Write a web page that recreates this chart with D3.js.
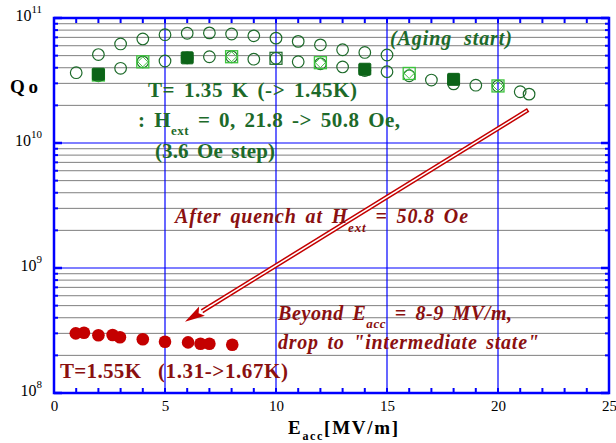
<!DOCTYPE html>
<html>
<head>
<meta charset="utf-8">
<script src="https://cdn.jsdelivr.net/npm/d3@7"></script>
<style>
  html, body { margin: 0; padding: 0; background: #fff; }
  svg { display: block; }
  svg text { font-family: 'Liberation Serif', 'Times New Roman', serif; }
</style>
</head>
<body>
<svg id="chart" width="616" height="443"></svg>
<script>
// Q0 vs accelerating gradient, before and after quench in an external field

// Open circles, upper branch
const upperE = [2, 3, 4, 5, 6, 7, 8, 9, 10, 11, 12, 13, 14, 15];
const upperQ = [5.1e10, 6.2e10, 6.8e10, 7.35e10, 7.55e10, 7.6e10, 7.45e10, 7.2e10,
                6.9e10, 6.5e10, 6.1e10, 5.57e10, 5.3e10, 5.06e10];

// Open circles, lower branch
const lowerE = [1, 2, 3, 4, 5, 6, 7, 8, 9, 10, 11, 12, 13, 14, 15, 16, 17, 18, 19, 20, 21, 21.4];
const lowerQ = [3.65e10, 3.45e10, 3.96e10, 4.46e10, 4.53e10, 4.8e10, 4.9e10, 4.9e10, 4.68e10,
                4.76e10, 4.47e10, 4.3e10, 4.06e10, 3.8e10, 3.72e10, 3.45e10, 3.19e10, 2.97e10,
                2.9e10, 2.86e10, 2.57e10, 2.46e10];

// Filled squares (field steps)
const filledE = [2, 6, 14, 18];
const filledQ = [3.55e10, 4.8e10, 3.89e10, 3.23e10];

// Light squares with diamond (field steps)
const lightE = [2, 4, 8, 12, 16, 20];
const lightQ = [3.5e10, 4.46e10, 4.9e10, 4.39e10, 3.6e10, 2.86e10];

// Dark open square
const openSqE = [10];
const openSqQ = [4.76e10];

// After quench at 50.8 Oe
const quenchE = [0.98, 1.35, 2.0, 2.64, 2.97, 4.0, 5.0, 6.04, 6.6, 7.0, 8.03];
const quenchQ = [3.0e8, 3.03e8, 2.9e8, 2.91e8, 2.79e8, 2.69e8, 2.57e8, 2.54e8, 2.48e8, 2.48e8, 2.43e8];

// Axis ticks
const xMajor = [0, 5, 10, 15, 20, 25];
const xMinor = d3.range(1, 25);
const yDecades = [1e8, 1e9, 1e10, 1e11];
const yDecadeExp = ["8", "9", "10", "11"];

// Arrow from the curve down to the quenched points: [E, Q]
const arrowFrom = [21.36, 1.84e10];
const arrowTo = [5.9, 3.72e8];

const m = { left: 54, right: 609, top: 18, bottom: 393 };
const SERIF = "'Liberation Serif', 'Times New Roman', serif";

const svg = d3.select("#chart");
const x = d3.scaleLinear().domain([0, 25]).range([m.left, m.right]);
const y = d3.scaleLog().domain([1e8, 1e11]).range([m.bottom, m.top]);

const blue = "#0000ff";
const grey = "#7f7f7f";
const green = "#1d6a2a";
const lightGreen = "#3cc43c";
const darkRed = "#8a1010";
const red = "#c40000";

// minor horizontal grid (2..9 of each decade)
const minorY = [];
for (let d = 8; d < 11; d++) for (let k = 2; k <= 9; k++) minorY.push(k * Math.pow(10, d));

const grid = svg.append("g");
grid.selectAll("line.hm").data(minorY).join("line")
  .attr("x1", m.left).attr("x2", m.right)
  .attr("y1", d => y(d)).attr("y2", d => y(d))
  .attr("stroke", grey).attr("stroke-width", 1);
grid.selectAll("line.hd").data([1e9, 1e10]).join("line")
  .attr("x1", m.left).attr("x2", m.right)
  .attr("y1", d => y(d)).attr("y2", d => y(d))
  .attr("stroke", blue).attr("stroke-width", 1.2);
grid.selectAll("line.v").data([5, 10, 15, 20]).join("line")
  .attr("x1", d => x(d)).attr("x2", d => x(d))
  .attr("y1", m.top).attr("y2", m.bottom)
  .attr("stroke", blue).attr("stroke-width", 1.2);

// ticks on all four sides, pointing inward
const tickG = svg.append("g").attr("stroke", blue);
const xTicksAll = xMajor.concat(xMinor);
tickG.selectAll("line.xb").data(xTicksAll).join("line")
  .attr("x1", d => x(d)).attr("x2", d => x(d))
  .attr("y1", m.bottom).attr("y2", m.bottom - 5).attr("stroke-width", 2);
tickG.selectAll("line.xt").data(xTicksAll).join("line")
  .attr("x1", d => x(d)).attr("x2", d => x(d))
  .attr("y1", m.top).attr("y2", m.top + 5).attr("stroke-width", 2);
tickG.selectAll("line.yl").data(minorY).join("line")
  .attr("x1", m.left).attr("x2", m.left + 4)
  .attr("y1", d => y(d)).attr("y2", d => y(d)).attr("stroke-width", 2);
tickG.selectAll("line.yr").data(minorY).join("line")
  .attr("x1", m.right).attr("x2", m.right - 4)
  .attr("y1", d => y(d)).attr("y2", d => y(d)).attr("stroke-width", 2);
tickG.selectAll("line.ydl").data(yDecades).join("line")
  .attr("x1", m.left).attr("x2", m.left + 8)
  .attr("y1", d => y(d)).attr("y2", d => y(d)).attr("stroke-width", 2.5);
tickG.selectAll("line.ydr").data(yDecades).join("line")
  .attr("x1", m.right).attr("x2", m.right - 8)
  .attr("y1", d => y(d)).attr("y2", d => y(d)).attr("stroke-width", 2.5);

// frame
svg.append("rect")
  .attr("x", m.left).attr("y", m.top)
  .attr("width", m.right - m.left).attr("height", m.bottom - m.top)
  .attr("fill", "none").attr("stroke", blue).attr("stroke-width", 2.5);

// tick labels via d3 axes
const xAxis = svg.append("g")
  .attr("transform", `translate(0,${m.bottom})`)
  .call(d3.axisBottom(x).tickValues(xMajor).tickSize(0).tickPadding(7).tickFormat(d3.format("d")));
xAxis.select(".domain").remove();
xAxis.attr("font-family", null);
xAxis.selectAll("text")
  .style("font-family", SERIF)
  .attr("font-size", 15).attr("fill", "#000");

const yAxis = svg.append("g")
  .attr("transform", `translate(${m.left},0)`)
  .call(d3.axisLeft(y).tickValues(yDecades).tickSize(0).tickPadding(12).tickFormat(() => ""));
yAxis.select(".domain").remove();
yAxis.attr("font-family", null);
yAxis.selectAll(".tick text").each(function (d, i) {
  const t = d3.select(this)
    .style("font-family", SERIF)
    .attr("font-size", 16).attr("fill", "#000")
    .attr("dy", "0.15em");
  t.append("tspan").text("10");
  t.append("tspan").attr("font-size", 11).attr("dy", "-0.75em").text(yDecadeExp[i]);
});

// data marks
const marks = svg.append("g");

marks.selectAll("circle.up").data(upperE.map((e, i) => [e, upperQ[i]])).join("circle")
  .attr("cx", d => x(d[0])).attr("cy", d => y(d[1])).attr("r", 5.8)
  .attr("fill", "none").attr("stroke", green).attr("stroke-width", 1.2);
marks.selectAll("circle.lo").data(lowerE.map((e, i) => [e, lowerQ[i]])).join("circle")
  .attr("cx", d => x(d[0])).attr("cy", d => y(d[1])).attr("r", 5.8)
  .attr("fill", "none").attr("stroke", green).attr("stroke-width", 1.2);

const ls = marks.selectAll("g.ls").data(lightE.map((e, i) => [e, lightQ[i]])).join("g")
  .attr("transform", d => `translate(${x(d[0])},${y(d[1])})`);
ls.append("rect").attr("x", -6).attr("y", -6).attr("width", 12).attr("height", 12)
  .attr("fill", "none").attr("stroke", lightGreen).attr("stroke-width", 1.3);
ls.append("path").attr("d", "M0,-5L5,0L0,5L-5,0Z")
  .attr("fill", "none").attr("stroke", lightGreen).attr("stroke-width", 1);

marks.selectAll("rect.fs").data(filledE.map((e, i) => [e, filledQ[i]])).join("rect")
  .attr("x", d => x(d[0]) - 6).attr("y", d => y(d[1]) - 6)
  .attr("width", 12).attr("height", 12).attr("rx", 1)
  .attr("fill", "#0c6418").attr("stroke", "#0c6418");

marks.selectAll("rect.os").data(openSqE.map((e, i) => [e, openSqQ[i]])).join("rect")
  .attr("x", d => x(d[0]) - 6).attr("y", d => y(d[1]) - 6)
  .attr("width", 12).attr("height", 12)
  .attr("fill", "none").attr("stroke", green).attr("stroke-width", 1.2);

marks.selectAll("circle.q").data(quenchE.map((e, i) => [e, quenchQ[i]])).join("circle")
  .attr("cx", d => x(d[0])).attr("cy", d => y(d[1])).attr("r", 6.3)
  .attr("fill", red);

// double-line arrow
const ax0 = x(arrowFrom[0]), ay0 = y(arrowFrom[1]);
const ax1 = x(arrowTo[0]), ay1 = y(arrowTo[1]);
const ang = Math.atan2(ay1 - ay0, ax1 - ax0);
const cA = Math.cos(ang), sA = Math.sin(ang);
const headLen = 20, headHalf = 5.5;
const bx = ax1 - headLen * cA, by = ay1 - headLen * sA;
const arrow = svg.append("g");
arrow.append("line").attr("x1", ax0).attr("y1", ay0).attr("x2", bx).attr("y2", by)
  .attr("stroke", red).attr("stroke-width", 4.6);
arrow.append("line").attr("x1", ax0 + 1.5 * cA).attr("y1", ay0 + 1.5 * sA)
  .attr("x2", bx + 6 * cA).attr("y2", by + 6 * sA)
  .attr("stroke", "#fff").attr("stroke-width", 1.6);
const px = -sA, py = cA;
arrow.append("path")
  .attr("d", `M${ax1},${ay1}L${bx + headHalf * px},${by + headHalf * py}L${bx + 4 * cA},${by + 4 * sA}L${bx - headHalf * px},${by - headHalf * py}Z`)
  .attr("fill", red);

// annotations: text is stretched with letter-spacing to span x0..x1
function label(x0, x1, yp, parts, opts) {
  const t = svg.append("text")
    .attr("x", x0).attr("y", yp)
    .style("font-family", SERIF)
    .attr("font-size", opts.size).attr("font-weight", "bold")
    .attr("font-style", opts.italic ? "italic" : "normal")
    .attr("fill", opts.color)
    .attr("word-spacing", opts.ws || 0);
  parts.forEach(p => {
    if (typeof p === "string") {
      t.append("tspan").text(p);
    } else {
      t.append("tspan").attr("font-size", p.size).attr("dy", p.dy).text(p.t);
    }
  });
  if (x1 != null) {
    const natural = t.node().getComputedTextLength();
    const n = t.text().length;
    const lsp = (x1 - x0 - natural) / Math.max(1, n - 1);
    t.attr("letter-spacing", lsp.toFixed(2));
  }
  return t;
}

label(10, 38, 93, ["Q", "o"], { size: 19, color: "#000" });

label(148, 357, 97, ["T= 1.35 K (-> 1.45K)"], { size: 21, color: green, ws: 3 });
label(138, 400, 127, [": H", { t: "ext", size: 13, dy: 8 }, { t: " = 0, 21.8 -> 50.8 Oe,", size: 21, dy: -8 }],
  { size: 21, color: green, ws: 3 });
label(155, 275, 158, ["(3.6 Oe step)"], { size: 21, color: green, ws: 3 });
label(390, 512, 45, ["(Aging start)"], { size: 20, color: green, italic: true, ws: 6 });

label(175, 468, 223, ["After quench at H", { t: "ext", size: 13, dy: 9 }, { t: " = 50.8 Oe", size: 20, dy: -9 }],
  { size: 20, color: darkRed, italic: true, ws: 3 });
label(278, 512, 320, ["Beyond E", { t: "acc", size: 13, dy: 8 }, { t: " = 8-9 MV/m,", size: 20, dy: -8 }],
  { size: 20, color: darkRed, italic: true, ws: 3 });
label(278, 539, 349, ["drop to \"intermediate state\""], { size: 20, color: darkRed, italic: true, ws: 3 });
label(60, 141, 378, ["T=1.55K"], { size: 21, color: darkRed });
label(158, 288, 378, ["(1.31->1.67K)"], { size: 21, color: darkRed });

label(288, 398, 434, ["E", { t: "acc", size: 12, dy: 6 }, { t: "[MV/m]", size: 19, dy: -6 }], { size: 19, color: "#000" });
</script>
</body>
</html>
